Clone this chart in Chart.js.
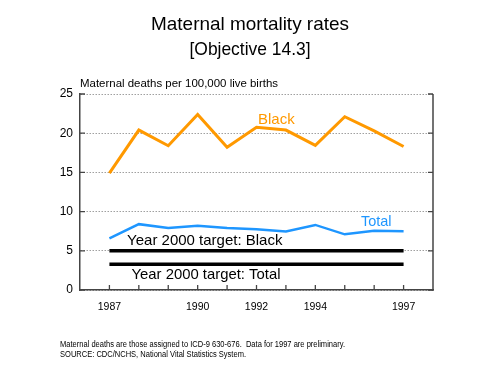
<!DOCTYPE html>
<html>
<head>
<meta charset="utf-8">
<script src="https://cdn.jsdelivr.net/npm/chart.js@4/dist/chart.umd.min.js"></script>
<style>
html,body{margin:0;padding:0;background:#fff;}
#wrap{width:500px;height:378px;position:relative;}
</style>
</head>
<body>
<div id="wrap"><canvas id="c" width="500" height="378"></canvas></div>
<script>
const years = [1987,1988,1989,1990,1991,1992,1993,1994,1995,1996,1997];
const blackRates = [14.9,20.4,18.4,22.4,18.2,20.75,20.4,18.45,22.1,20.3,18.3];
const totalRates = [6.6,8.4,7.9,8.2,7.9,7.75,7.45,8.3,7.1,7.55,7.5];
const targetYears = [1987,1997];
const targetBlack = [5,5];
const targetTotal = [3.3,3.3];
const labelledYears = [1987,1990,1992,1994,1997];
const yTicks = [0,5,10,15,20,25];

const FONT = '"Liberation Sans", Arial, sans-serif';
const toPts = (xs, ys) => xs.map((x,i)=>({x:x, y:ys[i]}));

const decor = {
  id:'decor',
  beforeDatasetsDraw(chart){
    const {ctx, chartArea:a, scales:{x,y}} = chart;
    ctx.save();
    ctx.strokeStyle = '#444';
    ctx.lineWidth = 1.5;
    ctx.beginPath();
    ctx.moveTo(a.right, a.top); ctx.lineTo(a.right, a.bottom+0.75);
    ctx.stroke();
    ctx.lineWidth = 1.3;
    yTicks.forEach(v=>{
      const py = y.getPixelForValue(v);
      ctx.beginPath();
      ctx.moveTo(a.left, py); ctx.lineTo(a.left+5, py);
      ctx.moveTo(a.right, py); ctx.lineTo(a.right-5, py);
      ctx.stroke();
    });
    years.forEach(v=>{
      const px = x.getPixelForValue(v);
      ctx.beginPath();
      ctx.moveTo(px, a.bottom); ctx.lineTo(px, a.bottom-5);
      ctx.stroke();
    });
    ctx.restore();
  },
  afterDraw(chart){
    const {ctx, chartArea:a, scales:{x,y}} = chart;
    ctx.save();
    ctx.textBaseline = 'alphabetic';
    ctx.fillStyle = '#000';
    ctx.textAlign = 'center';
    ctx.font = '19px ' + FONT;
    ctx.fillText('Maternal mortality rates', 250, 30, 198);
    ctx.fillText('[Objective 14.3]', 250, 55, 121);
    ctx.textAlign = 'left';
    ctx.font = '11.5px ' + FONT;
    ctx.fillText('Maternal deaths per 100,000 live births', a.left, 87, 198);
    ctx.font = '15px ' + FONT;
    ctx.fillStyle = '#FF9900';
    ctx.fillText('Black', x.getPixelForValue(1992.05), y.getPixelForValue(21.2), 37);
    ctx.fillStyle = '#1E96FF';
    ctx.font = '14.5px ' + FONT;
    ctx.fillText('Total', x.getPixelForValue(1995.55), y.getPixelForValue(8.2), 31);
    ctx.fillStyle = '#000';
    ctx.font = '15px ' + FONT;
    ctx.fillText('Year 2000 target: Black', x.getPixelForValue(1987.6), y.getPixelForValue(5.7), 156);
    ctx.fillText('Year 2000 target: Total', x.getPixelForValue(1987.75), y.getPixelForValue(1.4), 149);
    ctx.font = '8.5px ' + FONT;
    ctx.fillText('Maternal deaths are those assigned to ICD-9 630-676.  Data for 1997 are preliminary.', 60, 346.5, 285);
    ctx.fillText('SOURCE: CDC/NCHS, National Vital Statistics System.', 60, 356.5, 186);
    ctx.restore();
  }
};

new Chart(document.getElementById('c'), {
  type:'line',
  data:{
    datasets:[
      {label:'Black', data:toPts(years, blackRates), borderColor:'#FF9900', borderWidth:3, pointRadius:0, tension:0, fill:false},
      {label:'Total', data:toPts(years, totalRates), borderColor:'#1E96FF', borderWidth:2.5, pointRadius:0, tension:0, fill:false},
      {label:'Target Black', data:toPts(targetYears, targetBlack), borderColor:'#000', borderWidth:3.5, pointRadius:0, borderCapStyle:'butt'},
      {label:'Target Total', data:toPts(targetYears, targetTotal), borderColor:'#000', borderWidth:3.5, pointRadius:0, borderCapStyle:'butt'}
    ]
  },
  options:{
    responsive:false,
    animation:false,
    devicePixelRatio:1,
    layout:{padding:{top:94, right:67, bottom:0, left:0}},
    plugins:{legend:{display:false}, tooltip:{enabled:false}, title:{display:false}},
    scales:{
      x:{
        type:'linear', min:1986, max:1998,
        afterFit(s){ s.height = 88; },
        grid:{display:false},
        border:{display:true, color:'#444', width:1.5},
        ticks:{stepSize:1, autoSkip:false, maxRotation:0, color:'#000', padding:3,
          font:{family:FONT, size:10.5},
          callback:(v)=> labelledYears.includes(v) ? String(v) : ''}
      },
      y:{
        min:0, max:25,
        afterFit(s){ s.width = 80; },
        grid:{color:'#a0a0a0', lineWidth:1, drawTicks:false},
        border:{display:true, color:'#444', width:1.5, dash:[1.5,1.5]},
        ticks:{stepSize:5, color:'#000', padding:7, font:{family:FONT, size:12}}
      }
    }
  },
  plugins:[decor]
});
</script>
</body>
</html>
